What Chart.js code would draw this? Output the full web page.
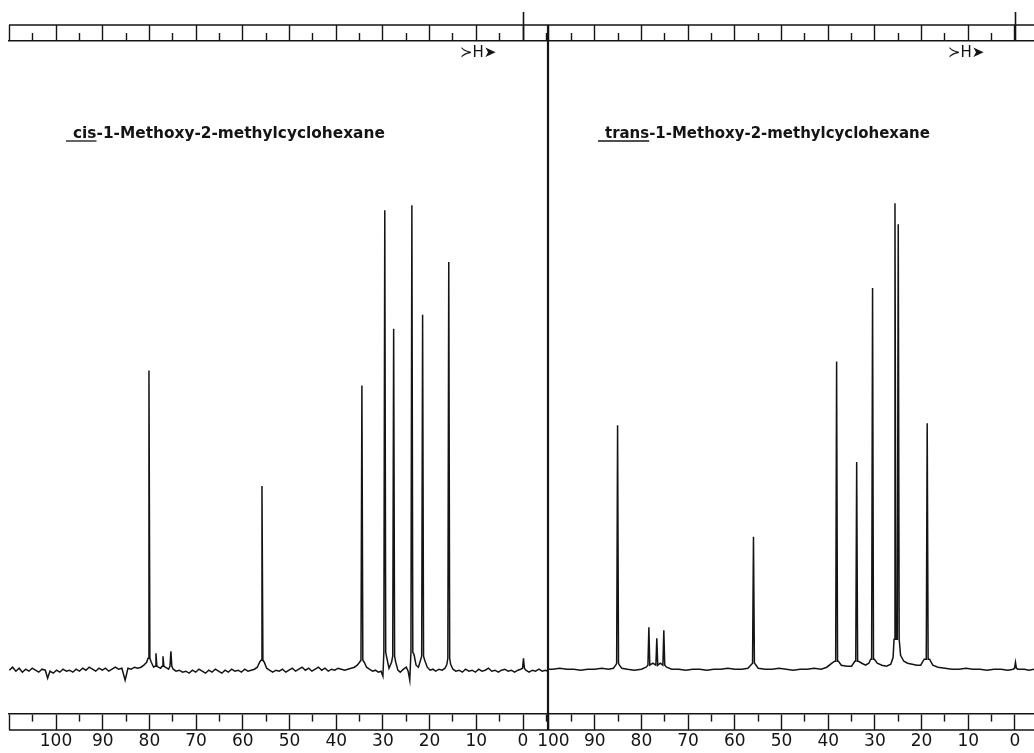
<!DOCTYPE html>
<html>
<head>
<meta charset="utf-8">
<title>13C NMR - 1-Methoxy-2-methylcyclohexane</title>
<script src="https://cdn.jsdelivr.net/npm/chart.js@4.4.1/dist/chart.umd.min.js"></script>
<style>
  html, body { margin: 0; padding: 0; background: #fff; }
  #wrap { position: relative; width: 1034px; height: 753px; }
  #wrap canvas { position: absolute; left: 0; top: 0; }
</style>
</head>
<body>
<div id="wrap">
  <canvas id="cisChart" width="1034" height="753"></canvas>
  <canvas id="transChart" width="1034" height="753"></canvas>
</div>
<script>
// ppm scale marks and which ones carry a number
const ppmTicks = [110, 105, 100, 95, 90, 85, 80, 75, 70, 65, 60, 55, 50, 45, 40, 35, 30, 25, 20, 15, 10, 5, 0, -5];
const labelTicks = [100, 90, 80, 70, 60, 50, 40, 30, 20, 10, 0];

// cis isomer: peak shifts (ppm), heights and the height where each line flares out
const cisPeakPpm    = [80.1, 78.6, 77.1, 75.4, 55.9, 34.5, 29.6, 27.7, 23.8, 21.5, 15.9, -0.1];
const cisPeakHeight = [301, 17, 14, 19, 185, 286, 462, 343, 467, 357, 410, 12];
const cisPeakFoot   = [12, 4, 4, 4, 10, 10, 18, 14, 18, 14, 12, 2];
// cis baseline (noisy) [ppm, height]
const cisBaseline = [
  [110.0, 0], [109.3, 3], [108.6, -1], [107.9, 2], [107.2, -2], [106.5, 1], [105.8, -1], [105.1, 2],
  [104.4, 0], [103.7, -2], [103.0, 1], [102.3, 0], [101.8, -8], [101.3, -1], [100.6, -3], [99.9, 0],
  [99.2, -2], [98.5, 1], [97.8, -1], [97.1, 0], [96.4, -2], [95.7, 1], [95.0, -1], [94.3, 2],
  [93.6, 0], [92.9, 3], [92.2, 1], [91.5, -1], [90.8, 2], [90.1, 0], [89.4, 2], [88.7, -1],
  [88.0, 1], [87.3, 3], [86.6, 1], [85.9, 2], [85.2, -10], [84.6, 2], [83.9, 1], [83.2, 3],
  [82.5, 2], [81.8, 3], [81.2, 5], [80.6, 8], [79.6, 8], [79.1, 3], [78.1, 3], [77.6, 2],
  [76.6, 3], [75.9, 1], [74.9, 1], [74.3, -1], [73.6, 0], [72.9, -2], [72.2, -1], [71.5, -3],
  [70.8, 0], [70.1, -2], [69.4, 1], [68.7, -1], [68.0, -3], [67.3, 0], [66.6, -2], [65.9, 1],
  [65.2, -1], [64.5, -3], [63.8, 0], [63.1, -2], [62.4, 1], [61.7, -1], [61.0, 0], [60.3, -2],
  [59.6, 1], [58.9, -1], [58.2, 0], [57.5, 1], [56.9, 3], [56.4, 8], [55.4, 8], [54.9, 2],
  [54.3, 0], [53.6, -2], [52.9, 0], [52.2, -1], [51.5, 1], [50.8, -2], [50.1, 0], [49.4, 2],
  [48.7, -1], [48.0, 1], [47.3, 3], [46.6, 0], [45.9, 2], [45.2, -1], [44.5, 1], [43.8, 3],
  [43.1, 0], [42.4, 2], [41.7, -1], [41.0, 1], [40.3, 0], [39.6, 2], [38.9, 1], [38.2, 0],
  [37.5, 1], [36.8, 2], [36.1, 3], [35.5, 5], [35.0, 8], [34.0, 8], [33.5, 3], [32.9, 1],
  [32.2, -1], [31.6, 0], [31.0, -2], [30.4, -1], [30.0, -6], [29.15, 12], [28.7, 2], [28.15, 8],
  [27.25, 8], [26.8, 0], [26.3, -2], [25.6, 1], [25.0, 3], [24.6, -1], [24.25, -10], [23.35, 16],
  [22.9, 5], [22.4, 3], [21.95, 10], [21.05, 10], [20.5, 3], [19.9, 0], [19.3, 1], [18.7, -1],
  [18.0, 1], [17.3, 0], [16.7, 2], [16.3, 6], [15.5, 6], [15.0, 1], [14.4, -1], [13.7, 0],
  [13.0, -2], [12.3, 1], [11.6, -1], [10.9, 0], [10.2, -2], [9.5, 1], [8.8, -1], [8.1, 0],
  [7.4, 2], [6.7, -1], [6.0, 0], [5.3, -2], [4.6, 0], [3.9, 1], [3.2, -1], [2.5, 0],
  [1.8, -2], [1.1, 0], [0.5, 1], [-0.6, 0], [-1.3, -2], [-2.0, 0], [-2.7, -1], [-3.4, 1],
  [-4.1, -1], [-4.8, 0], [-5.35, -1]
];

// trans isomer
const transPeakPpm    = [85.1, 78.4, 76.7, 75.2, 56.0, 38.2, 33.9, 30.5, 25.7, 25.0, 18.8, -0.1];
const transPeakHeight = [245, 42, 31, 39, 133, 309, 208, 383, 468, 447, 247, 7];
const transPeakFoot   = [6, 4, 4, 4, 6, 8, 8, 10, 30, 30, 10, 1];
const transBaseline = [
  [100.0, 0], [99.0, 0], [97.5, 1], [96.0, 0], [94.5, 0], [93.0, -1], [91.5, 0], [90.0, 0],
  [88.5, 1], [87.0, 0], [86.0, 1], [85.5, 4], [84.7, 4], [84.2, 1], [83.0, 0], [81.5, -1],
  [80.0, 0], [79.0, 2], [77.55, 6], [75.95, 6], [74.6, 2], [73.5, 0], [72.0, 0], [70.5, -1],
  [69.0, 0], [67.5, 0], [66.0, -1], [64.5, 0], [63.0, 0], [61.5, 1], [60.0, 0], [58.5, 0],
  [57.2, 1], [56.4, 5], [55.6, 5], [55.0, 1], [53.5, 0], [52.0, 0], [50.5, 1], [49.0, 0],
  [47.5, -1], [46.0, 0], [44.5, 0], [43.0, 1], [41.5, 0], [40.3, 2], [39.2, 6], [38.6, 8],
  [37.8, 8], [37.2, 4], [36.0, 3], [35.0, 3], [34.3, 8], [33.5, 8], [32.8, 6], [32.0, 4],
  [31.3, 6], [30.9, 10], [30.1, 10], [29.5, 6], [28.5, 4], [27.5, 3], [26.6, 5], [26.1, 12],
  [24.5, 14], [23.8, 8], [23.0, 6], [22.0, 5], [21.0, 4], [20.2, 4], [19.45, 10], [18.3, 10],
  [17.6, 4], [16.5, 2], [15.0, 1], [13.5, 0], [12.0, 0], [10.5, 1], [9.0, 0], [7.5, 0],
  [6.0, -1], [4.5, 0], [3.0, 0], [1.5, -1], [0.4, 0], [-0.6, 0], [-2.0, 0], [-3.0, -1],
  [-4.07, 0]
];

const ink = "#141414";

// merge baseline and peak lines into one trace, ordered along the ppm axis
function buildTrace(peakPpm, peakHeight, peakFoot, baseline) {
  const points = baseline.map(([x, y]) => ({ x: x, y: y }));
  peakPpm.forEach((p, i) => {
    points.push({ x: p + 0.2, y: peakFoot[i] });
    points.push({ x: p, y: peakHeight[i] });
    points.push({ x: p - 0.2, y: peakFoot[i] });
  });
  return points.sort((a, b) => b.x - a.x);
}

function setTicks(scale) {
  scale.ticks = ppmTicks
    .filter(v => v >= scale.min && v <= scale.max)
    .map(v => ({ value: v }));
}

const isMinor = c => c.tick && c.tick.value % 10 !== 0;

// second rule of each scale bar, the divider, the titles
const framePlugin = {
  id: "frame",
  afterDraw(chart, args, opts) {
    const ctx = chart.ctx;
    const low = chart.scales.x;
    const high = chart.scales.xTop;
    const barDepth = 16;
    ctx.save();
    ctx.strokeStyle = ink;
    ctx.lineWidth = 1.6;
    ctx.beginPath();
    ctx.moveTo(low.left, low.top + barDepth);
    ctx.lineTo(low.right, low.top + barDepth);
    ctx.moveTo(high.left, high.top);
    ctx.lineTo(high.right, high.top);
    const x0 = Math.round(high.getPixelForValue(0)) + 0.5;
    ctx.moveTo(x0, high.top - 13);
    ctx.lineTo(x0, high.bottom);
    ctx.stroke();

    if (opts.divider) {
      ctx.lineWidth = 2.2;
      ctx.beginPath();
      ctx.moveTo(chart.chartArea.right, high.top);
      ctx.lineTo(chart.chartArea.right, low.top + barDepth);
      ctx.stroke();
    }

    // compound name, prefix underlined
    ctx.fillStyle = ink;
    ctx.textBaseline = "alphabetic";
    ctx.font = 'bold 15px "DejaVu Sans"';
    const fullWidth = ctx.measureText(opts.title).width;
    const size = 15 * opts.titleWidth / fullWidth;
    ctx.font = 'bold ' + size.toFixed(2) + 'px "DejaVu Sans"';
    ctx.fillText(opts.title, opts.titleX, opts.titleY);
    const prefixWidth = ctx.measureText(opts.prefix).width;
    ctx.lineWidth = 1.3;
    ctx.beginPath();
    ctx.moveTo(opts.titleX - 7, opts.titleY + 3);
    ctx.lineTo(opts.titleX + prefixWidth, opts.titleY + 3);
    ctx.stroke();

    // field direction mark
    ctx.font = '15px "DejaVu Sans"';
    ctx.textBaseline = "middle";
    ctx.fillText("\u227BH\u27A4", opts.markX, 53);
    ctx.restore();
  }
};

function makeChart(canvasId, trace, range, pad, frame, yRange, shiftHundred) {
  const axisFont = { family: "DejaVu Sans", size: 17, lineHeight: 1 };
  return new Chart(document.getElementById(canvasId), {
    type: "line",
    data: {
      datasets: [{
        data: trace,
        xAxisID: "x",
        yAxisID: "y",
        borderColor: ink,
        borderWidth: 1.5,
        pointRadius: 0,
        tension: 0,
        fill: false
      }]
    },
    options: {
      responsive: false,
      animation: false,
      events: [],
      layout: { padding: pad },
      plugins: {
        legend: { display: false },
        tooltip: { enabled: false },
        frame: frame
      },
      scales: {
        x: {
          type: "linear",
          position: "bottom",
          reverse: true,
          bounds: "data",
          min: range[0],
          max: range[1],
          afterBuildTicks: setTicks,
          border: { display: true, color: ink, width: 1.6 },
          grid: {
            drawOnChartArea: false,
            drawTicks: true,
            tickLength: 16,
            tickWidth: 1.4,
            tickColor: ink,
            tickBorderDash: c => isMinor(c) ? [7, 100] : []
          },
          ticks: {
            autoSkip: false,
            maxRotation: 0,
            minRotation: 0,
            padding: 3,
            color: ink,
            font: axisFont,
            callback: v => {
              if (!labelTicks.includes(v)) return "";
              return (shiftHundred && v === 100) ? "\u2007100" : String(v);
            }
          }
        },
        xTop: {
          type: "linear",
          axis: "x",
          position: "top",
          reverse: true,
          bounds: "data",
          min: range[0],
          max: range[1],
          afterBuildTicks: setTicks,
          border: { display: true, color: ink, width: 1.6 },
          grid: {
            drawOnChartArea: false,
            drawTicks: true,
            tickLength: 16,
            tickWidth: 1.4,
            tickColor: ink,
            tickBorderDash: c => isMinor(c) ? [0, 8, 8, 100] : []
          },
          ticks: { display: false }
        },
        y: { display: false, min: yRange[0], max: yRange[1] }
      }
    },
    plugins: [framePlugin]
  });
}

makeChart(
  "cisChart",
  buildTrace(cisPeakPpm, cisPeakHeight, cisPeakFoot, cisBaseline),
  [-5.35, 110.07],
  { left: 9, right: 486, top: 25, bottom: 0 },
  { divider: true, title: "cis-1-Methoxy-2-methylcyclohexane", prefix: "cis",
    titleX: 73, titleY: 138, titleWidth: 312, markX: 460 },
  [-44, 632],
  false
);

makeChart(
  "transChart",
  buildTrace(transPeakPpm, transPeakHeight, transPeakFoot, transBaseline),
  [-4.07, 100],
  { left: 548, right: 0, top: 25, bottom: 0 },
  { divider: false, title: "trans-1-Methoxy-2-methylcyclohexane", prefix: "trans",
    titleX: 605, titleY: 138, titleWidth: 325, markX: 948 },
  [-45, 631],
  true
);
</script>
</body>
</html>
